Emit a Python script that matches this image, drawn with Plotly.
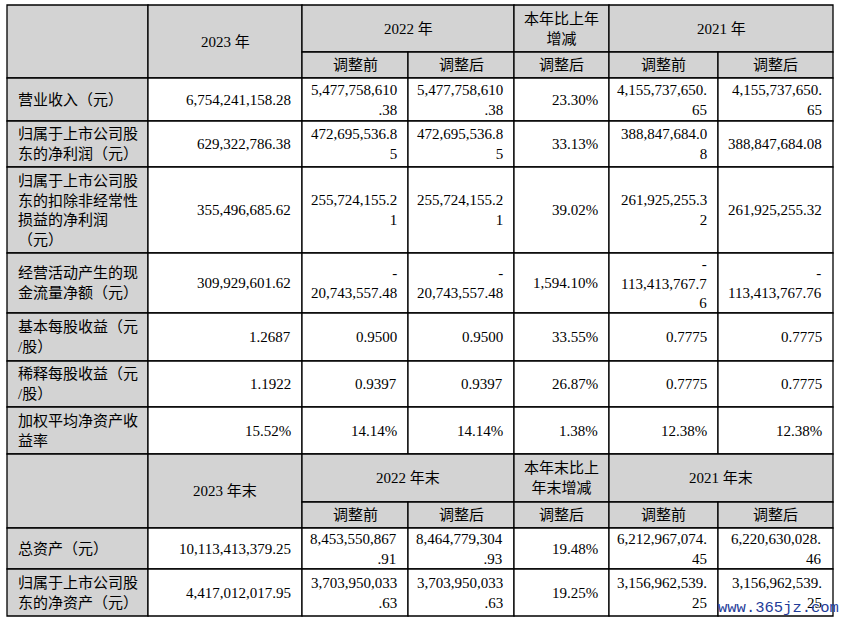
import plotly.graph_objects as go

# ---------------- data ----------------
header_year = ["2023 年", "2022 年", "本年比上年<br>增减", "2021 年"]
header_year_end = ["2023 年末", "2022 年末", "本年末比上<br>年末增减", "2021 年末"]
sub_headers = ["调整前", "调整后", "调整后", "调整前", "调整后"]

row_labels = [
    "营业收入（元）",
    "归属于上市公司股<br>东的净利润（元）",
    "归属于上市公司股<br>东的扣除非经常性<br>损益的净利润<br>（元）",
    "经营活动产生的现<br>金流量净额（元）",
    "基本每股收益（元<br>/股）",
    "稀释每股收益（元<br>/股）",
    "加权平均净资产收<br>益率",
]
row_formats = ["{:,.2f}", "{:,.2f}", "{:,.2f}", "{:,.2f}", "{:.4f}", "{:.4f}", "{:.2f}%"]

y2023 = [6754241158.28, 629322786.38, 355496685.62, 309929601.62, 1.2687, 1.1922, 15.52]
y2022_before = [5477758610.38, 472695536.85, 255724155.21, -20743557.48, 0.9500, 0.9397, 14.14]
y2022_after = [5477758610.38, 472695536.85, 255724155.21, -20743557.48, 0.9500, 0.9397, 14.14]
change_pct = [23.30, 33.13, 39.02, 1594.10, 33.55, 26.87, 1.38]
y2021_before = [4155737650.65, 388847684.08, 261925255.32, -113413767.76, 0.7775, 0.7775, 12.38]
y2021_after = [4155737650.65, 388847684.08, 261925255.32, -113413767.76, 0.7775, 0.7775, 12.38]

bal_labels = ["总资产（元）", "归属于上市公司股<br>东的净资产（元）"]
end2023 = [10113413379.25, 4417012017.95]
end2022_before = [8453550867.91, 3703950033.63]
end2022_after = [8464779304.93, 3703950033.63]
change_end_pct = [19.48, 19.25]
end2021_before = [6212967074.45, 3156962539.25]
end2021_after = [6220630028.46, 3156962539.25]

watermark = "www.365jz.com"

# ---------------- layout geometry ----------------
W, H = 841, 623
col_edges = [7, 148, 302, 408, 514, 609, 718, 833]
sec1_rows = [5, 52, 78, 121, 167, 253, 313, 361, 407, 454]
sec2_rows = [454, 502, 528, 569, 616]
GRAY = "#d3d3d3"
FS = 15
FONT = "Liberation Serif, 'Noto Sans CJK SC', serif"
PAD = 18

shapes = []
annots = []


def rect(x0, x1, y0, y1, fill):
    shapes.append(dict(type="rect", xref="x", yref="y", x0=x0, x1=x1, y0=y0, y1=y1,
                       fillcolor=fill, line=dict(color="#000", width=1.3), layer="below"))


def text(x, y, s, anchor="center", color="#000", family=FONT, size=FS):
    annots.append(dict(x=x, y=y, xref="x", yref="y", text=s, showarrow=False,
                       xanchor=anchor, yanchor="middle", align=anchor if anchor != "center" else "center",
                       font=dict(family=family, size=size, color=color)))


def char_w(c):
    if c.isdigit():
        return 0.5
    if c in ",.":
        return 0.25
    if c == "%":
        return 0.833
    if c == "-":
        return 0.333
    return 0.5


def wrap(s, avail):
    lines = []
    if s.startswith("-"):
        lines.append("-")
        s = s[1:]
    cur = ""
    for ch in s:
        if cur and sum(char_w(c) for c in cur + ch) * FS > avail:
            lines.append(cur)
            cur = ch
        else:
            cur += ch
    lines.append(cur)
    return "<br>".join(lines)


def header(y0, ym, y1, titles):
    c = col_edges
    rect(c[0], c[1], y0, y1, GRAY)
    rect(c[1], c[2], y0, y1, GRAY)
    text((c[1] + c[2]) / 2, (y0 + y1) / 2, titles[0])
    rect(c[2], c[4], y0, ym, GRAY)
    text((c[2] + c[4]) / 2, (y0 + ym) / 2, titles[1])
    rect(c[4], c[5], y0, ym, GRAY)
    text((c[4] + c[5]) / 2, (y0 + ym) / 2, titles[2])
    rect(c[5], c[7], y0, ym, GRAY)
    text((c[5] + c[7]) / 2, (y0 + ym) / 2, titles[3])
    for i, sh in enumerate(sub_headers):
        rect(c[i + 2], c[i + 3], ym, y1, GRAY)
        text((c[i + 2] + c[i + 3]) / 2, (ym + y1) / 2, sh)


def body_row(y0, y1, label, values):
    c = col_edges
    rect(c[0], c[1], y0, y1, GRAY)
    text(c[0] + 9, (y0 + y1) / 2, label, anchor="left")
    for i, v in enumerate(values):
        rect(c[i + 1], c[i + 2], y0, y1, "white")
        s = wrap(v, c[i + 2] - c[i + 1] - PAD)
        text(c[i + 2] - 9, (y0 + y1) / 2, s, anchor="right")


# section 1
header(sec1_rows[0], sec1_rows[1], sec1_rows[2], header_year)
for r in range(len(row_labels)):
    f = row_formats[r]
    vals = [f.format(y2023[r]), f.format(y2022_before[r]), f.format(y2022_after[r]),
            "{:,.2f}%".format(change_pct[r]), f.format(y2021_before[r]), f.format(y2021_after[r])]
    body_row(sec1_rows[r + 2], sec1_rows[r + 3], row_labels[r], vals)

# section 2
header(sec2_rows[0], sec2_rows[1], sec2_rows[2], header_year_end)
for r in range(len(bal_labels)):
    f = "{:,.2f}"
    vals = [f.format(end2023[r]), f.format(end2022_before[r]), f.format(end2022_after[r]),
            "{:,.2f}%".format(change_end_pct[r]), f.format(end2021_before[r]), f.format(end2021_after[r])]
    body_row(sec2_rows[r + 2], sec2_rows[r + 3], bal_labels[r], vals)

# watermark
text(778, 608, watermark, anchor="center", color="#1f3c99",
     family="Liberation Mono, 'DejaVu Sans Mono', monospace", size=15.5)

fig = go.Figure()
fig.add_trace(go.Scatter(x=[0, W], y=[0, H], mode="markers", marker=dict(opacity=0),
                         hoverinfo="skip", showlegend=False))
fig.update_layout(
    width=W, height=H, autosize=False,
    margin=dict(l=0, r=0, t=0, b=0),
    paper_bgcolor="white", plot_bgcolor="white",
    xaxis=dict(range=[0, W], visible=False, fixedrange=True),
    yaxis=dict(range=[H, 0], visible=False, fixedrange=True),
    shapes=shapes, annotations=annots, showlegend=False,
)
fig.write_html("out.html", config={"displayModeBar": False},
               post_script="document.body.style.margin='0';")
